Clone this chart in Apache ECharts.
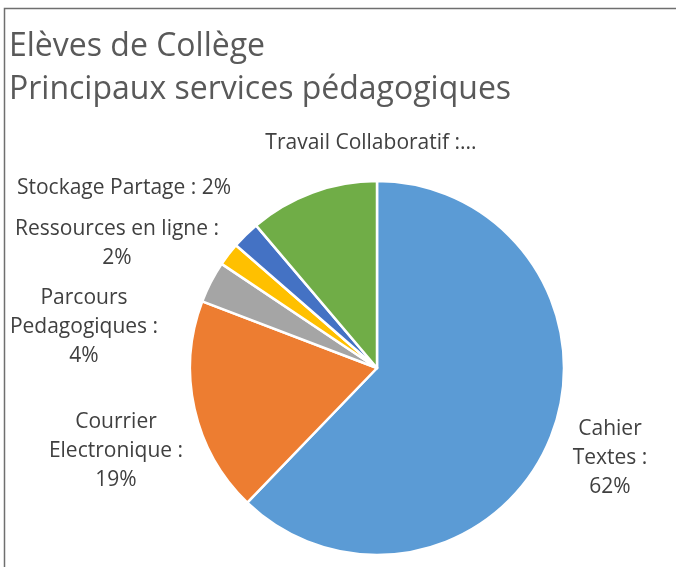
<!DOCTYPE html>
<html>
<head>
<meta charset="utf-8">
<script src="https://cdn.jsdelivr.net/npm/echarts@6/dist/echarts.min.js"></script>
<style>
  html, body { margin: 0; padding: 0; background: #fff; }
  #main { width: 676px; height: 567px; }
</style>
</head>
<body>
<div id="main"></div>
<script>
const names = ['Cahier Textes', 'Courrier Electronique', 'Parcours Pedagogiques', 'Ressources en ligne', 'Stockage Partage', 'Travail Collaboratif'];
const values = [62.2, 18.6, 3.6, 2.0, 2.4, 11.2];
const colors = ['#5B9BD5', '#ED7D31', '#A5A5A5', '#FFC000', '#4472C4', '#70AD47'];
const labelTexts = [
  'Cahier\nTextes :\n{d}%',
  'Courrier\nElectronique :\n{d}%',
  'Parcours\nPedagogiques :\n{d}%',
  'Ressources en ligne :\n{d}%',
  'Stockage Partage : {d}%',
  'Travail Collaboratif :...'
];
// centre des étiquettes (placement Excel)
const labelPos = [[610, 458], [116, 451], [84, 327], [117, 244], [124, 188], [371, 143]];

const chart = echarts.init(document.getElementById('main'));

const option = {
  backgroundColor: '#fff',
  animation: false,
  title: {
    text: 'Elèves de Collège\nPrincipaux services pédagogiques',
    left: 9,
    top: 25,
    padding: 0,
    textStyle: {
      fontFamily: 'Open Sans',
      fontSize: 32,
      fontWeight: 'normal',
      color: '#595959',
      lineHeight: 43
    }
  },
  graphic: [{
    type: 'rect',
    shape: { x: 4.5, y: 8.5, width: 700, height: 600 },
    style: { fill: null, stroke: '#6f6f6f', lineWidth: 1.5 },
    silent: true
  }],
  series: [{
    type: 'pie',
    center: [377, 368],
    radius: 187,
    startAngle: 90,
    clockwise: true,
    avoidLabelOverlap: false,
    itemStyle: { borderColor: '#fff', borderWidth: 2.5 },
    label: {
      show: true,
      fontFamily: 'Open Sans',
      fontSize: 21,
      color: '#404040',
      lineHeight: 29,
      align: 'center'
    },
    labelLine: { show: false },
    labelLayout: function (p) {
      const pos = labelPos[p.dataIndex];
      return { x: pos[0], y: pos[1], align: 'center', verticalAlign: 'middle' };
    },
    data: names.map(function (n, i) {
      const pct = Math.round(values[i] / values.reduce(function (a, b) { return a + b; }, 0) * 100);
      return {
        name: n,
        value: values[i],
        itemStyle: { color: colors[i] },
        label: { formatter: labelTexts[i].replace('{d}', pct) }
      };
    })
  }]
};

chart.setOption(option);
</script>
</body>
</html>
